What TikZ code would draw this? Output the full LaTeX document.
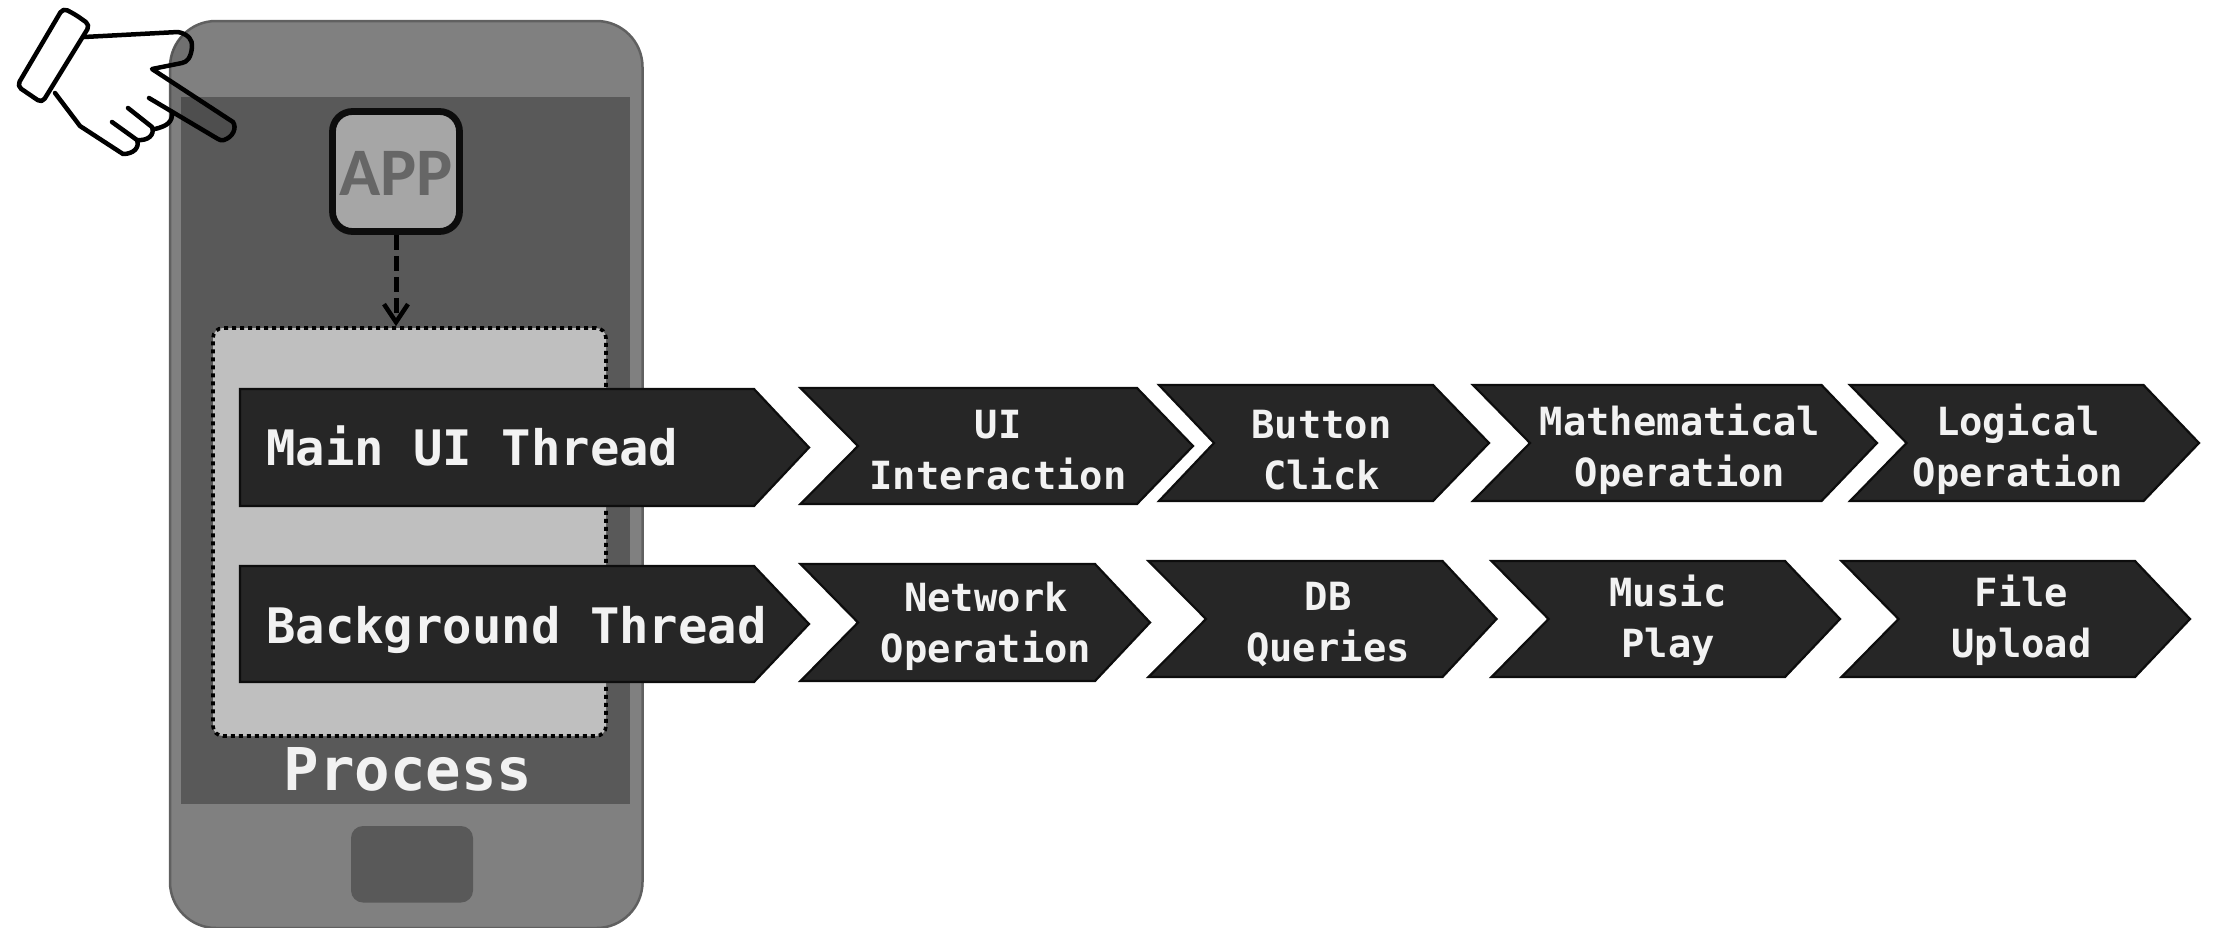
\documentclass[tikz,border=0pt]{standalone}
\usepackage{fontspec}
\usetikzlibrary{arrows.meta}
\newfontfamily\monob{DejaVu Sans Mono Bold}
\newfontfamily\appfont{Carlito Bold}
\definecolor{chevfill}{HTML}{262626}
\definecolor{chevedge}{HTML}{0D0D0D}
\definecolor{phonefill}{HTML}{808080}
\definecolor{phoneedge}{HTML}{606060}
\definecolor{screenfill}{HTML}{595959}
\definecolor{procfill}{HTML}{BFBFBF}
\definecolor{appfill}{HTML}{A6A6A6}
\definecolor{apptext}{HTML}{666666}
\definecolor{labeltext}{HTML}{F2F2F2}
\tikzset{
  chevshape/.style={fill=chevfill,draw=chevedge,line width=2.2pt,line join=miter},
  chevlabel/.style={text=labeltext,inner sep=0pt,anchor=base,font=\monob\fontsize{38.8}{51}\selectfont},
  threadlabel/.style={text=labeltext,inner sep=0pt,anchor=base west,font=\monob\fontsize{48.9}{58}\selectfont},
  handline/.style={draw=black,line width=4.5pt,line join=round,line cap=round}
}
\newcommand{\chev}[7]{% name, left, notch, end, tip, top, bottom
  \path[chevshape] ({#2+2.5},#6) -- (#4,#6) -- ({#5-2},{(#6+#7)/2}) -- (#4,#7) -- ({#2+2.5},#7) -- ({#3+1},{(#6+#7)/2}) -- cycle;
}
\newcommand{\chevtext}[5]{% name, cx, baseline, line1, line2
  \node[chevlabel] (#1) at (#2,#3) {\begin{tabular}[t]{@{}c@{}}#4\\#5\end{tabular}};
}
\newcommand{\handfill}{
  (70,30) -- (178,32) .. controls (188,34) and (193,40) .. (192,47)
  .. controls (191,58) and (187,62) .. (182,63) -- (152,69)
  -- (233,122) .. controls (237,128) and (233,137) .. (224,140)
  .. controls (222,141) and (220,140) .. (218,139)
  -- (172,112) .. controls (173,122) and (167,126) .. (155,129)
  .. controls (155,135) and (148,141) .. (137,140)
  .. controls (140,148) and (133,154) .. (123,154)
  -- (80,126) -- (55,93) -- (40,90) -- cycle
}
\begin{document}
\begin{tikzpicture}[x=1pt,y=-1pt]
\useasboundingbox (0,0) rectangle (2214,927);
% hand, behind the phone
\fill[white] \handfill;
% phone
\path[fill=phonefill,draw=phoneedge,line width=2.5pt,rounded corners=46pt] (170,21) rectangle (642.5,928);
\node[fill=screenfill,inner sep=0pt,minimum width=449pt,minimum height=707pt] (screen) at (405.5,450.5) {};
\path[fill=screenfill,rounded corners=12pt] (351,826) rectangle (473,902.5);
% hand outline on top
\begin{scope}
  \clip[rounded corners=46pt] (170,21) rectangle (642.5,928);
  \fill[black,opacity=.12] \handfill;
\end{scope}
\path[handline] (84,37) -- (178,32) .. controls (188,34) and (193,40) .. (192,47)
  .. controls (191,58) and (187,62) .. (182,63) -- (152,69)
  -- (233,122) .. controls (237,128) and (233,137) .. (224,140)
  .. controls (222,141) and (220,140) .. (218,139) -- (149,98);
\path[handline] (172,112) .. controls (173,122) and (167,126) .. (155,129);
\path[handline] (128,108) -- (152,127) .. controls (155,135) and (148,141) .. (137,140) -- (112,122);
\path[handline] (137,140) .. controls (140,148) and (133,154) .. (123,154) -- (80,126) -- (55,93);
\path[handline,fill=white,rounded corners=5pt] (76,15) -- (90,25) -- (42,103) -- (17,86) -- (63,8) -- cycle;
% process
\node[fill=procfill,draw=black,line width=3.6pt,dash pattern=on 4pt off 4pt,rounded corners=10pt,inner sep=0pt,minimum width=393pt,minimum height=408pt] (proc) at (409.5,532) {};
% app
\node[fill=appfill,draw=chevedge,line width=6.8pt,rounded corners=20pt,inner sep=0pt,minimum width=127pt,minimum height=120pt,text=apptext,text height=47pt,text depth=0pt,font=\appfont\fontsize{68}{70}\selectfont] (app) at (396,171.5) {APP};
\draw[black,line width=5pt,dash pattern=on 15pt off 6pt,-{Straight Barb[length=18pt,width=24pt,line width=4.5pt]}] (app.south) -- (app.south |- proc.north);
\node[text=labeltext,inner sep=0pt,anchor=base,font=\monob\fontsize{59}{60}\selectfont] (process) at (408,790) {Process};
% threads
\path[chevshape] (240,389) -- (754,389) -- (809,447.5) -- (754,506) -- (240,506) -- cycle;
\node[threadlabel] (mainthread) at (266,465) {Main UI Thread};
\path[chevshape] (240,566) -- (754,566) -- (809,624) -- (754,682) -- (240,682) -- cycle;
\node[threadlabel] (bgthread) at (266,643) {Background Thread};
% first row
\chev{a}{798}{857}{1137}{1195}{388}{504}
\chevtext{ta}{998}{438}{UI}{Interaction}
\chev{b}{1156.5}{1213}{1433}{1491}{385}{501}
\chevtext{tb}{1321.5}{438}{Button}{Click}
\chev{c}{1470.5}{1529}{1821.5}{1879}{385}{501}
\chevtext{tc}{1680}{435}{Mathematical}{Operation}
\chev{d}{1847.5}{1905.5}{2143.5}{2201}{385}{501}
\chevtext{td}{2018}{435}{Logical}{Operation}
% second row
\chev{e}{798}{857}{1095}{1152}{564}{681}
\chevtext{te}{986}{611}{Network}{Operation}
\chev{f}{1146}{1205}{1442.5}{1498.5}{561}{677}
\chevtext{tf}{1328}{610}{DB}{Queries}
\chev{g}{1489}{1547.5}{1785}{1842}{561}{677}
\chevtext{tg}{1668}{606}{Music}{Play}
\chev{h}{1839}{1897.5}{2135}{2192}{561}{677}
\chevtext{th}{2021.5}{606}{File}{Upload}
\end{tikzpicture}
\end{document}
